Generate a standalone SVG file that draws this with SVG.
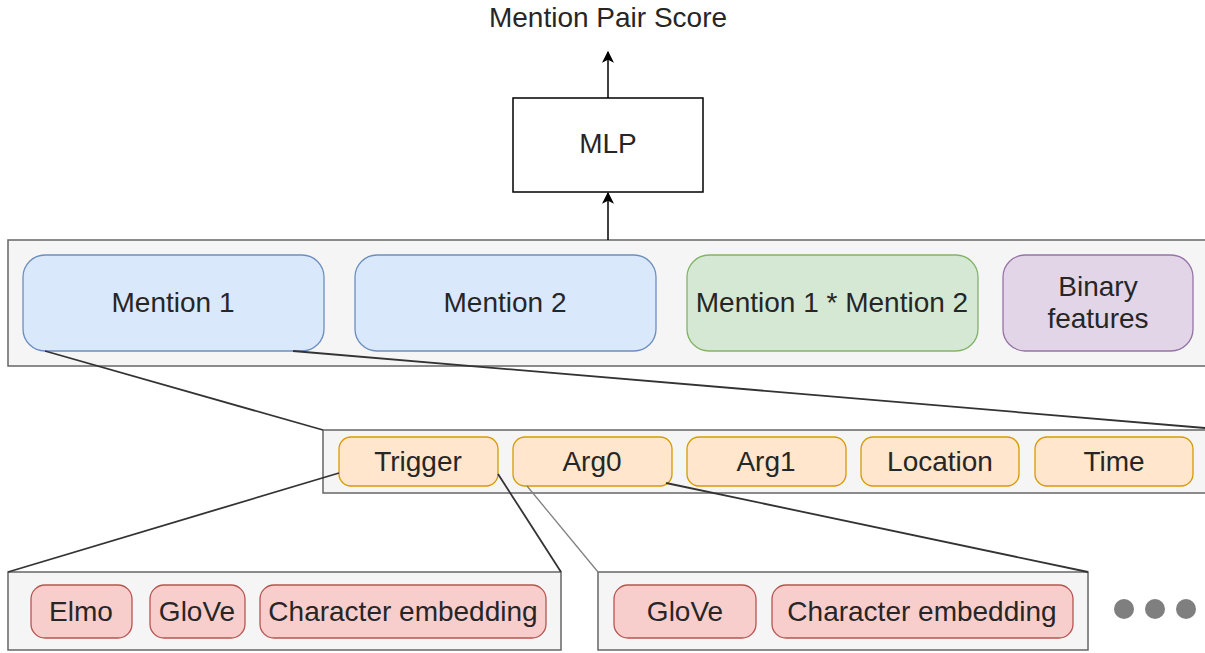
<svg xmlns="http://www.w3.org/2000/svg" width="1205" height="653" viewBox="0 0 1205 653">
  <style>
    text { font-family: "Liberation Sans", Arial, sans-serif; font-size: 28px; fill: #262626; text-anchor: middle; }
    .panel { fill: #f5f5f5; stroke: #666666; stroke-width: 1.5; }
    .blue { fill: #dae8fc; stroke: #6c8ebf; stroke-width: 1.3; }
    .green { fill: #d5e8d4; stroke: #82b366; stroke-width: 1.3; }
    .purple { fill: #e1d5e7; stroke: #9673a6; stroke-width: 1.3; }
    .orange { fill: #ffe6cc; stroke: #d79b00; stroke-width: 1.3; }
    .red { fill: #f8cecc; stroke: #b85450; stroke-width: 1.3; }
    .box { fill: #ffffff; stroke: #000000; stroke-width: 1.5; }
    .zoom { stroke: #333333; stroke-width: 1.8; fill: none; }
    .zoom-light { stroke: #808080; stroke-width: 1.3; fill: none; }
    .arrow { stroke: #000000; stroke-width: 1.5; fill: none; marker-end: url(#head); }
    .dot { fill: #7f7f7f; }
  </style>
  <defs>
    <marker id="head" viewBox="0 0 10 10" refX="9" refY="5" markerWidth="12" markerHeight="12" markerUnits="userSpaceOnUse" orient="auto">
      <path d="M0,0 L10,5 L0,10 L2.5,5 Z" fill="#000000"/>
    </marker>
  </defs>

  <!-- output label -->
  <g id="score">
    <text x="608" y="27">Mention Pair Score</text>
  </g>

  <!-- top panel holding the pair representation -->
  <g id="pair-panel">
    <rect class="panel" x="8" y="240" width="1200" height="126"/>
  </g>

  <g id="mlp">
    <rect class="box" x="513" y="98" width="190" height="94"/>
    <text x="608" y="153">MLP</text>
  </g>

  <g id="mention1">
    <rect class="blue" x="23" y="255" width="301" height="96" rx="22"/>
    <text x="173" y="312">Mention 1</text>
  </g>
  <g id="mention2">
    <rect class="blue" x="355" y="255" width="301" height="96" rx="22"/>
    <text x="505" y="312">Mention 2</text>
  </g>
  <g id="mention-product">
    <rect class="green" x="687" y="255" width="291" height="96" rx="22"/>
    <text x="832" y="312">Mention 1 * Mention 2</text>
  </g>
  <g id="binary-features">
    <rect class="purple" x="1003" y="255" width="190" height="96" rx="22"/>
    <text x="1098" y="296">Binary</text>
    <text x="1098" y="328">features</text>
  </g>

  <!-- argument panel -->
  <g id="arg-panel">
    <rect class="panel" x="323" y="430" width="890" height="63"/>
  </g>
  <g id="trigger">
    <rect class="orange" x="339" y="437" width="159" height="49" rx="12"/>
    <text x="418" y="471">Trigger</text>
  </g>
  <g id="arg0">
    <rect class="orange" x="513" y="437" width="159" height="49" rx="12"/>
    <text x="592" y="471">Arg0</text>
  </g>
  <g id="arg1">
    <rect class="orange" x="687" y="437" width="159" height="49" rx="12"/>
    <text x="766" y="471">Arg1</text>
  </g>
  <g id="location">
    <rect class="orange" x="861" y="437" width="158" height="49" rx="12"/>
    <text x="940" y="471">Location</text>
  </g>
  <g id="time">
    <rect class="orange" x="1035" y="437" width="158" height="49" rx="12"/>
    <text x="1114" y="471">Time</text>
  </g>

  <!-- trigger embeddings -->
  <g id="trigger-embeddings">
    <rect class="panel" x="8" y="572" width="553" height="78"/>
  </g>
  <g id="trigger-elmo">
    <rect class="red" x="31" y="585" width="101" height="53" rx="14"/>
    <text x="81" y="621">Elmo</text>
  </g>
  <g id="trigger-glove">
    <rect class="red" x="150" y="585" width="95" height="53" rx="14"/>
    <text x="197" y="621">GloVe</text>
  </g>
  <g id="trigger-char">
    <rect class="red" x="260" y="585" width="286" height="53" rx="14"/>
    <text x="403" y="621">Character embedding</text>
  </g>

  <!-- arg0 embeddings -->
  <g id="arg0-embeddings">
    <rect class="panel" x="598" y="572" width="490" height="78"/>
  </g>
  <g id="arg0-glove">
    <rect class="red" x="614" y="585" width="142" height="53" rx="14"/>
    <text x="685" y="621">GloVe</text>
  </g>
  <g id="arg0-char">
    <rect class="red" x="772" y="585" width="301" height="53" rx="14"/>
    <text x="922" y="621">Character embedding</text>
  </g>

  <g id="ellipsis">
    <circle class="dot" cx="1124" cy="609" r="10"/>
    <circle class="dot" cx="1155" cy="609" r="10"/>
    <circle class="dot" cx="1186" cy="609" r="10"/>
  </g>

  <!-- connectors -->
  <g id="connectors">
    <line class="arrow" x1="608" y1="240" x2="608" y2="193"/>
    <line class="arrow" x1="608" y1="98" x2="608" y2="52"/>
    <line class="zoom" x1="45" y1="351" x2="323" y2="430"/>
    <line class="zoom" x1="293" y1="351" x2="1205" y2="428"/>
    <line class="zoom" x1="339" y1="473" x2="8" y2="572"/>
    <line class="zoom" x1="498" y1="474" x2="561" y2="572"/>
    <line class="zoom-light" x1="527" y1="486" x2="598" y2="572"/>
    <line class="zoom" x1="666" y1="483" x2="1088" y2="572"/>
  </g>
</svg>
